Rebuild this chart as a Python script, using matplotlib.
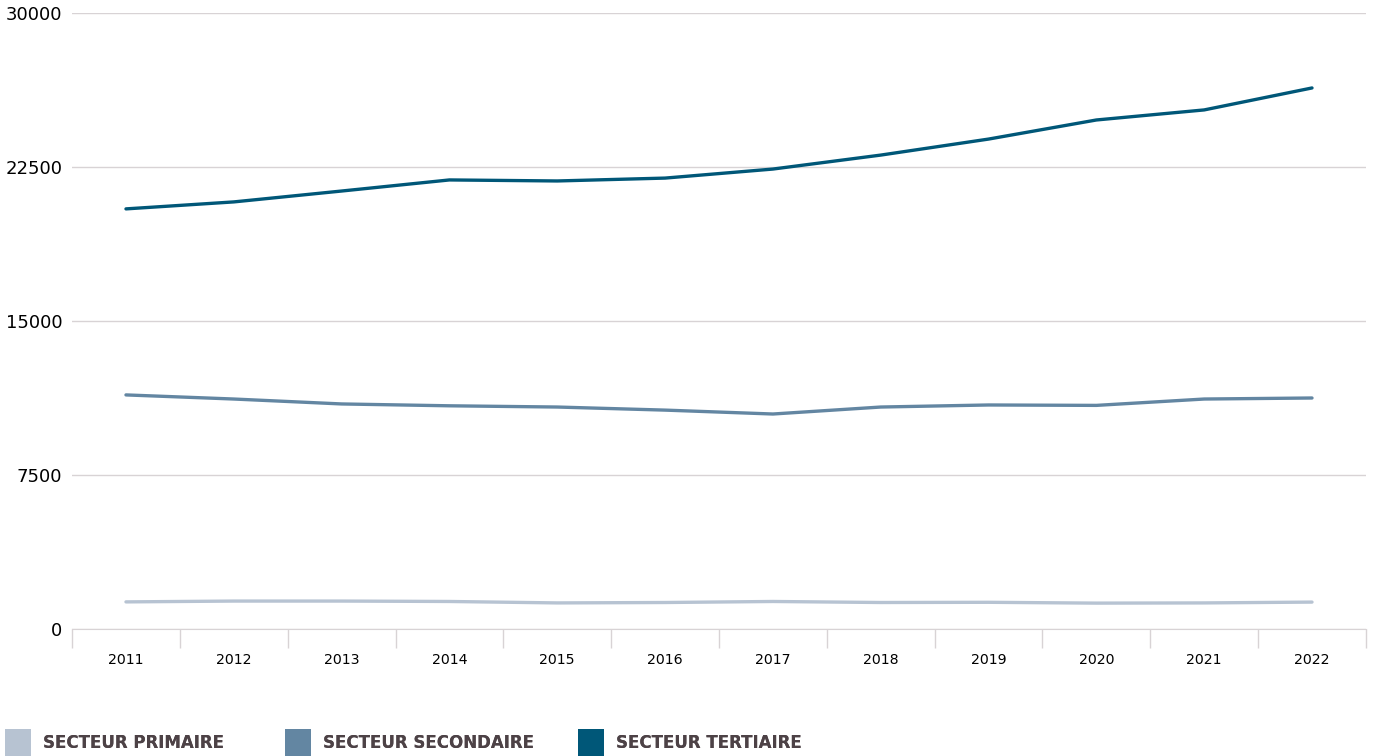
import matplotlib.pyplot as plt
from matplotlib.patches import Patch

years = ["2011", "2012", "2013", "2014", "2015", "2016",
         "2017", "2018", "2019", "2020", "2021", "2022"]
primaire = [1320, 1360, 1360, 1340, 1270, 1290, 1340, 1290, 1300, 1260, 1270, 1310]
secondaire = [11400, 11200, 10960, 10870, 10810, 10660, 10470, 10810, 10910, 10890, 11200, 11250]
tertiaire = [20460, 20800, 21330, 21870, 21820, 21960, 22400, 23080, 23860, 24790, 25280, 26350]

series = [
    ("SECTEUR PRIMAIRE", primaire, "#b7c3d2"),
    ("SECTEUR SECONDAIRE", secondaire, "#6386a2"),
    ("SECTEUR TERTIAIRE", tertiaire, "#005778"),
]
legend_x = [5, 285, 578]  # pixel left edge of each legend patch

fig = plt.figure(figsize=(13.75, 7.56), dpi=100)
ax = fig.add_axes([0.0524, 0.168, 0.941, 0.8148])

x = list(range(len(years)))
for name, vals, color in series:
    ax.plot(x, vals, color=color, linewidth=2.4, solid_capstyle="round")

ax.set_xlim(-0.5, len(years) - 0.5)
ax.set_ylim(0, 30000)
ax.set_yticks([0, 7500, 15000, 22500, 30000])
ax.set_yticklabels(["0", "7500", "15000", "22500", "30000"])
ax.grid(axis="y", color="#d8d3d5", linewidth=1)
ax.set_axisbelow(True)

ax.set_xticks(x)
ax.set_xticklabels(years)
ax.set_xticks([i - 0.5 for i in range(len(years) + 1)], minor=True)
ax.tick_params(axis="x", which="major", length=0, pad=17, labelsize=10.2)
ax.tick_params(axis="x", which="minor", length=14, color="#d8d3d5", width=1)
ax.tick_params(axis="y", length=0, pad=7, labelsize=13)

for s in ["top", "right", "left"]:
    ax.spines[s].set_visible(False)
ax.spines["bottom"].set_color("#d8d3d5")

# one legend per entry so each can sit where the reference puts it
for (name, vals, color), px in zip(series, legend_x):
    leg = fig.legend(handles=[Patch(facecolor=color, edgecolor="none", label=name)],
                     loc="lower left", bbox_to_anchor=(px / 1375, 0.0),
                     frameon=False, borderpad=0, borderaxespad=0,
                     handlelength=1.55, handleheight=2.1, handletextpad=0.75,
                     prop={"family": "DejaVu Sans", "weight": "bold", "size": 12})
    for t in leg.get_texts():
        t.set_color("#4d4246")
    fig.add_artist(leg)

fig.savefig("out.png", dpi=100)
